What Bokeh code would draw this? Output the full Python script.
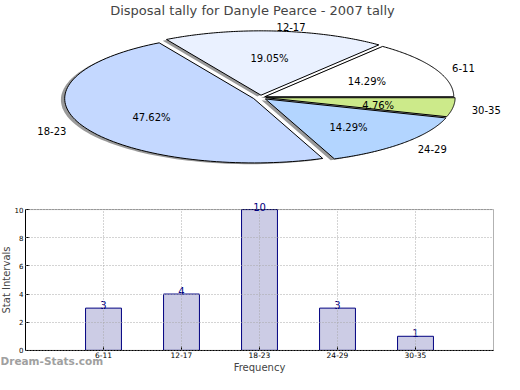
import numpy as np
from bokeh.plotting import figure
from bokeh.models import (ColumnDataSource, Range1d, LinearAxis, FixedTicker, Grid,
                          BoxAnnotation, Label)
from bokeh.embed import file_html
from bokeh.resources import INLINE
from bokeh.core.properties import value

# ---------------- data ----------------
title_text = "Disposal tally for Danyle Pearce - 2007 tally"
categories = ["6-11", "12-17", "18-23", "24-29", "30-35"]
counts = [3, 4, 10, 3, 1]
slice_colors = ["#FFFFFF", "#EAF1FF", "#C4D8FF", "#B3D5FF", "#CCEA8A"]
explode = [0.025, 0.035, 0.04, 0.035, 0.03]
y_ticks = [0, 2, 4, 6, 8, 10]
x_label = "Frequency"
y_label = "Stat Intervals"
watermark = "Dream-Stats.com"

FONT = "DejaVu Sans"

# ---------------- pie geometry (computed from the counts) ----------------
vals = np.array(counts, dtype=float)
frac = vals / vals.sum()
edges = np.concatenate([[0.0], np.cumsum(frac)]) * 2 * np.pi
mids = (edges[:-1] + edges[1:]) / 2
ex = np.array(explode)
ox = ex * np.cos(mids)
oy = ex * np.sin(mids)

xs, ys, shx, shy = [], [], [], []
for i in range(len(counts)):
    t = np.linspace(edges[i], edges[i + 1], 90)
    px = np.concatenate([[0.0], np.cos(t)]) + ox[i]
    py = np.concatenate([[0.0], np.sin(t)]) + oy[i]
    xs.append(px.tolist())
    ys.append(py.tolist())
    shx.append((px - 0.02).tolist())
    shy.append((py - 0.02).tolist())

pie_src = ColumnDataSource(dict(xs=xs, ys=ys, color=slice_colors, cat=categories))
shadow_src = ColumnDataSource(dict(xs=shx, ys=shy))
lab_src = ColumnDataSource(dict(
    x=(ox + 1.1 * np.cos(mids)).tolist(),
    y=(oy + 1.1 * np.sin(mids)).tolist(),
    text=categories,
    align=["left" if c >= 0 else "right" for c in np.cos(mids)],
))
pct_src = ColumnDataSource(dict(
    x=(ox + 0.6 * np.cos(mids)).tolist(),
    y=(oy + 0.6 * np.sin(mids)).tolist(),
    text=[f"{f * 100:.2f}%" for f in frac],
))

# ---------------- bar data ----------------
positions = list(range(1, len(categories) + 1))
bar_src = ColumnDataSource(dict(x=positions, val=counts, lab=[str(v) for v in counts]))

# ---------------- figure ----------------
W, H = 504, 374
p = figure(width=W, height=H, output_backend="svg", toolbar_location=None,
           x_range=Range1d(-0.3205, 6.141), y_range=Range1d(-1.7143, 23.571),
           x_axis_type=None, y_axis_type=None,
           min_border_left=0, min_border_right=0, min_border_top=0, min_border_bottom=0)
p.outline_line_color = None
p.extra_x_ranges = {"pie": Range1d(-1.3757, 1.291)}
p.extra_y_ranges = {"pie": Range1d(-4.3047, 1.2266)}

p.title.text = title_text
p.title.align = "center"
p.title.text_font = FONT
p.title.text_font_size = "13px"
p.title.text_font_style = "normal"
p.title.standoff = 1

# pie
p.patches("xs", "ys", source=shadow_src, fill_color="black", fill_alpha=0.4, line_color=None,
          x_range_name="pie", y_range_name="pie")
p.patches("xs", "ys", source=pie_src, fill_color="color", line_color="black", line_width=1,
          x_range_name="pie", y_range_name="pie")
p.text("x", "y", text="text", source=lab_src, text_align="align", text_baseline="middle",
       y_offset=2, text_font=value(FONT), text_font_size="10px", text_color="black",
       x_range_name="pie", y_range_name="pie")
p.text("x", "y", text="text", source=pct_src, text_align="center", text_baseline="middle",
       y_offset=2, text_font=value(FONT), text_font_size="10px", text_color="black",
       x_range_name="pie", y_range_name="pie")

# bars
p.vbar(x="x", top="val", width=0.46, source=bar_src,
       fill_color="#CCCCE5", line_color="#000080", line_width=1)

x_ticker = FixedTicker(ticks=positions)
y_ticker = FixedTicker(ticks=y_ticks)

xgrid = Grid(dimension=0, ticker=x_ticker, grid_line_color="#a8a8a8", grid_line_dash="1 2",
             grid_line_width=1, level="annotation")
ygrid = Grid(dimension=1, ticker=y_ticker, grid_line_color="#a8a8a8", grid_line_dash="1 2",
             grid_line_width=1, level="annotation")
xgrid.cross_bounds = (0, 10)
ygrid.cross_bounds = (0, 6)
p.add_layout(xgrid)
p.add_layout(ygrid)

p.add_layout(BoxAnnotation(left=0, right=6, bottom=0, top=10, fill_color=None,
                           line_color="black", line_width=1))

p.text("x", "val", text="lab", source=bar_src, text_align="center", text_baseline="bottom",
       y_offset=1, text_font=value(FONT), text_font_size="10px", text_color="#000080")

xaxis = LinearAxis(ticker=x_ticker, fixed_location=0, bounds=(0, 6), axis_label=x_label,
                   major_label_overrides={pos: c for pos, c in zip(positions, categories)})
yaxis = LinearAxis(ticker=y_ticker, fixed_location=0, bounds=(0, 10), axis_label=y_label)
for ax in (xaxis, yaxis):
    ax.major_tick_in = 4
    ax.major_tick_out = 0
    ax.minor_tick_in = 0
    ax.minor_tick_out = 0
    ax.major_label_text_font = FONT
    ax.major_label_text_color = "black"
    ax.axis_label_text_font = FONT
    ax.axis_label_text_font_size = "10px"
    ax.axis_label_text_font_style = "normal"
    ax.axis_line_color = "black"
xaxis.major_label_text_font_size = "7.5px"
yaxis.major_label_text_font_size = "7px"
xaxis.major_label_standoff = 2
yaxis.major_label_standoff = 2
xaxis.axis_label_standoff = 0
yaxis.axis_label_standoff = 0
p.add_layout(xaxis, "below")
p.add_layout(yaxis, "left")

p.add_layout(Label(x=-0.3205, y=-0.3, text=watermark, text_font=FONT, text_font_size="10.5px",
                   text_font_style="bold", text_color="#a0a0a0", text_baseline="top",
                   text_align="left"))

open("out.html", "w").write(file_html(p, INLINE))
